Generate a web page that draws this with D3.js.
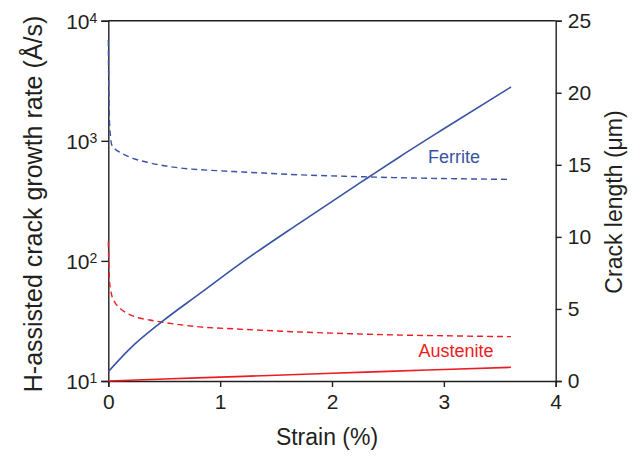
<!DOCTYPE html>
<html>
<head>
<meta charset="utf-8">
<script src="https://cdn.jsdelivr.net/npm/d3@7"></script>
<style>
  html, body { margin: 0; padding: 0; background: #fff; }
  svg { display: block; font-family: "Liberation Sans", Arial, sans-serif; }
</style>
</head>
<body>
<svg id="chart" width="640" height="459"></svg>
<script>
// Strain (%) sample positions and values for each series
const ferriteRateStrain = [0, 0.003, 0.006, 0.01, 0.02, 0.03, 0.06, 0.105, 0.22, 0.37, 0.67, 0.97, 1.2, 1.71, 2.2, 2.55, 3.0, 3.6];
const ferriteRate       = [6900, 3500, 2200, 1500, 1080, 930, 855, 800, 715, 655, 590, 564, 550, 521, 504, 494, 485, 477];

const austeniteRateStrain = [0, 0.003, 0.006, 0.01, 0.02, 0.03, 0.06, 0.105, 0.22, 0.37, 0.49, 0.82, 1.15, 1.71, 2.2, 2.55, 3.0, 3.6];
const austeniteRate       = [145, 110, 85, 70, 58, 52, 45, 40.3, 34.8, 32.2, 30.8, 28.2, 27.1, 25.6, 24.7, 24.2, 23.8, 23.4];

const ferriteLengthStrain = [0, 0.194, 0.477, 0.82, 1.18, 1.71, 2.31, 2.61, 3.0, 3.6];
const ferriteLength       = [0.65, 2.25, 4.1, 6.08, 8.15, 10.96, 14.05, 15.58, 17.5, 20.4];

const austeniteLengthStrain = [0, 0.5, 1, 1.5, 2, 2.5, 3, 3.6];
const austeniteLength       = [0, 0.14, 0.27, 0.4, 0.54, 0.67, 0.8, 0.95];

// Tick values
const strainTicks = [0, 1, 2, 3, 4];
const rateTickExponents = [1, 2, 3, 4];
const lengthTicks = [0, 5, 10, 15, 20, 25];

const BLUE = "#3953a4";
const RED = "#ed1c24";
const INK = "#231f20";
const FONT = "'Liberation Sans', Arial, sans-serif";

const svg = d3.select("#chart");
const plotLeft = 108.3, plotRight = 555.7, plotTop = 20.7, plotBottom = 381;

const x = d3.scaleLinear().domain([0, 4]).range([plotLeft, plotRight]);
const yRate = d3.scaleLog().domain([10, 1e4]).range([plotBottom, plotTop]);
const yLen = d3.scaleLinear().domain([0, 25]).range([plotBottom, plotTop]);

const zip = (xs, ys) => xs.map((v, i) => [v, ys[i]]);

// Frame: top border line
svg.append("line")
  .attr("x1", plotLeft).attr("x2", plotRight).attr("y1", plotTop).attr("y2", plotTop)
  .attr("stroke", INK).attr("stroke-width", 1.4);

// Bottom axis
const gx = svg.append("g").attr("transform", `translate(0,${plotBottom})`)
  .call(d3.axisBottom(x).tickValues(strainTicks).tickFormat(d3.format("d")).tickSize(6).tickPadding(7));

// Left log axis (labels added below with exponents)
const gl = svg.append("g").attr("transform", `translate(${plotLeft},0)`)
  .call(d3.axisLeft(yRate).tickValues(rateTickExponents.map(e => Math.pow(10, e))).tickFormat("").tickSize(7));

// Right axis
const gr = svg.append("g").attr("transform", `translate(${plotRight},0)`)
  .call(d3.axisRight(yLen).tickValues(lengthTicks).tickSize(6).tickPadding(6));

[gx, gl, gr].forEach(g => {
  g.select(".domain").attr("stroke", INK).attr("stroke-width", 1.4);
  g.selectAll(".tick line").attr("stroke", INK).attr("stroke-width", 1.4);
  g.selectAll(".tick text").attr("fill", INK).style("font-size", "21px")
    .style("font-family", FONT);
});

// Left tick labels: 10 with exponent
gl.selectAll(".tick").each(function(d) {
  const e = Math.round(Math.log10(d));
  const t = d3.select(this).append("text")
    .attr("x", -11).attr("dy", "0.35em")
    .attr("text-anchor", "end")
    .attr("fill", INK)
    .style("font-size", "21px")
    .style("font-family", FONT);
  t.append("tspan").text("10");
  t.append("tspan").attr("dy", "-0.4em").style("font-size", "14px").text(e);
});

// Series lines
const lineRate = d3.line().x(d => x(d[0])).y(d => yRate(d[1])).curve(d3.curveMonotoneX);
const lineLen = d3.line().x(d => x(d[0])).y(d => yLen(d[1])).curve(d3.curveMonotoneX);

svg.append("path").datum(zip(ferriteRateStrain, ferriteRate))
  .attr("d", lineRate).attr("fill", "none").attr("stroke", BLUE)
  .attr("stroke-width", 1.4).attr("stroke-dasharray", "6,4");

svg.append("path").datum(zip(austeniteRateStrain, austeniteRate))
  .attr("d", lineRate).attr("fill", "none").attr("stroke", RED)
  .attr("stroke-width", 1.4).attr("stroke-dasharray", "6,4");

svg.append("path").datum(zip(ferriteLengthStrain, ferriteLength))
  .attr("d", lineLen).attr("fill", "none").attr("stroke", BLUE)
  .attr("stroke-width", 1.6);

svg.append("path").datum(zip(austeniteLengthStrain, austeniteLength))
  .attr("d", lineLen).attr("fill", "none").attr("stroke", RED)
  .attr("stroke-width", 1.6);

// Series labels
svg.append("text").attr("x", 454).attr("y", 163).attr("text-anchor", "middle")
  .attr("fill", BLUE).style("font-size", "18px").text("Ferrite");
svg.append("text").attr("x", 456).attr("y", 357).attr("text-anchor", "middle")
  .attr("fill", RED).style("font-size", "18px").text("Austenite");

// Axis titles
svg.append("text").attr("x", 327).attr("y", 445).attr("text-anchor", "middle")
  .attr("fill", INK).style("font-size", "23px").text("Strain (%)");

svg.append("text").attr("transform", "translate(42,204) rotate(-90)")
  .attr("text-anchor", "middle").attr("fill", INK).style("font-size", "25px")
  .text("H-assisted crack growth rate (Å/s)");

svg.append("text").attr("transform", "translate(622,202) rotate(-90)")
  .attr("text-anchor", "middle").attr("fill", INK).style("font-size", "23px")
  .text("Crack length (μm)");
</script>
</body>
</html>
